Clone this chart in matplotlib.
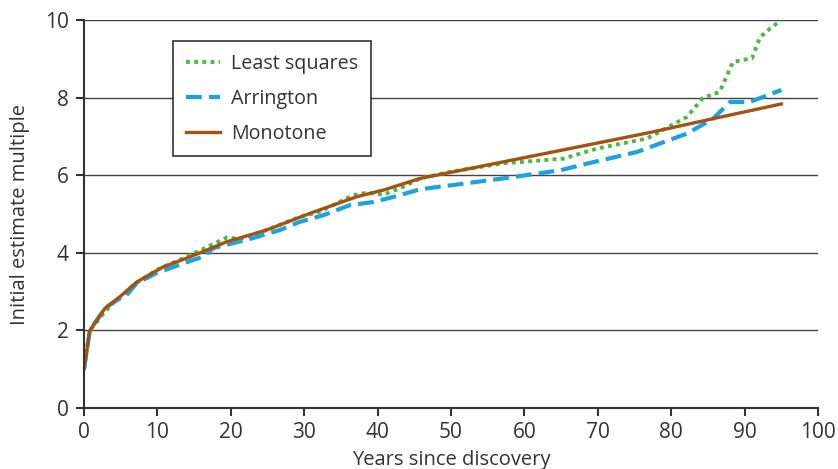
import matplotlib.pyplot as plt

plt.rcParams['font.family'] = ['Open Sans', 'DejaVu Sans']

# values
x_ls = [0, 0.8, 2.7, 4.3, 5.8, 6.7, 9.9, 14, 19.5, 21.2, 24.9, 29.4, 32.1, 36.7, 38.5, 40.8, 43,
        45.8, 49.9, 57.1, 65.3, 69.9, 76.7, 82.1, 84.3, 86.6, 88.4, 91, 92.1, 93.5, 95]
y_ls = [1.0, 2.0, 2.45, 2.77, 2.99, 3.17, 3.56, 3.9, 4.4, 4.36, 4.59, 4.93, 5.06, 5.49, 5.55, 5.5, 5.66,
        5.92, 6.09, 6.31, 6.43, 6.69, 6.95, 7.5, 7.99, 8.15, 8.92, 9.02, 9.56, 9.79, 10.0]

x_arr = [0, 0.8, 2.9, 4.5, 5.8, 7.2, 9.9, 14, 16.2, 17.6, 23, 26.7, 29.4, 32.6, 36.2, 39.4, 42.1,
         45.8, 50.3, 57.1, 64.9, 68.5, 75.3, 82.2, 85.7, 88, 90.7, 95]
y_arr = [1.0, 2.01, 2.58, 2.78, 2.91, 3.22, 3.48, 3.76, 3.9, 4.12, 4.38, 4.59, 4.8, 4.97, 5.23, 5.31, 5.44,
         5.64, 5.75, 5.92, 6.13, 6.3, 6.6, 7.08, 7.46, 7.89, 7.89, 8.2]

x_mono = [0, 0.8, 2.9, 4.9, 7.2, 10.8, 14.5, 19.5, 24.9, 30.8, 37.2, 40.8, 45.8, 50.3, 61.7, 70.7, 77.5, 85.7, 95]
y_mono = [1.0, 2.0, 2.58, 2.87, 3.25, 3.64, 3.9, 4.29, 4.59, 5.02, 5.45, 5.62, 5.92, 6.09, 6.52, 6.86, 7.12, 7.46, 7.84]

fig = plt.figure(figsize=(8.38, 4.69), dpi=100)
ax = fig.add_axes([0.1002, 0.13, 0.876, 0.827])

for yv in [2, 4, 6, 8, 10]:
    ax.axhline(yv, color='#444444', lw=1.0, zorder=0)

ax.plot(x_ls, y_ls, color='#4cb848', lw=2.8, linestyle=(0, (1.0, 1.1)), label='Least squares')
ax.plot(x_arr, y_arr, color='#1ba3e0', lw=3.0, linestyle=(0, (3.8, 1.7)), label='Arrington')
ax.plot(x_mono, y_mono, color='#a4520f', lw=2.4, label='Monotone')

ax.set_xlim(0, 100)
ax.set_ylim(0, 10)
ax.set_xticks(range(0, 101, 10))
ax.set_yticks(range(0, 11, 2))
for s in ['top', 'right']:
    ax.spines[s].set_visible(False)
for s in ['left', 'bottom']:
    ax.spines[s].set_color('#333333')
    ax.spines[s].set_linewidth(1.5)
ax.tick_params(direction='out', length=6, width=1.5, color='#333333', labelsize=15, labelcolor='#333333')
ax.tick_params(axis='x', pad=4)
ax.tick_params(axis='y', pad=5)
ax.set_xlabel('Years since discovery', fontsize=14.5, color='#333333', labelpad=5)
ax.set_ylabel('Initial estimate multiple', fontsize=14.5, color='#333333', labelpad=11)

leg = ax.legend(loc='upper left', bbox_to_anchor=(0.121, 0.946), borderaxespad=0, fontsize=14.2,
                frameon=True, fancybox=False, edgecolor='#333333', handlelength=1.75, handletextpad=0.55,
                borderpad=0.65, labelspacing=0.75)
leg.get_frame().set_linewidth(1.2)
leg.get_frame().set_alpha(1)
for t in leg.get_texts():
    t.set_color('#333333')

fig.savefig('out.png', dpi=100)
